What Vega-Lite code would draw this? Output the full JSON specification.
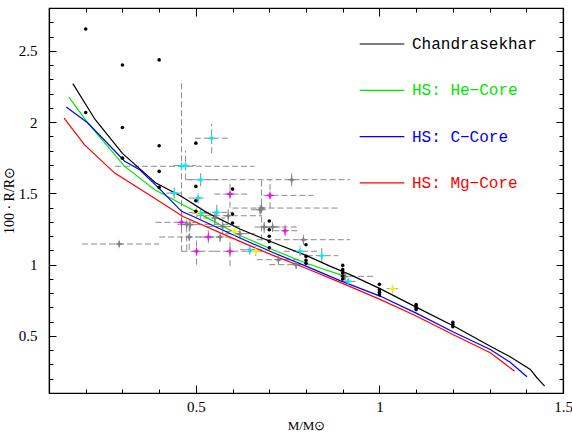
{
  "$schema": "https://vega.github.io/schema/vega-lite/v6.json",
  "width": 514,
  "height": 385,
  "autosize": {"type": "none"},
  "padding": {"left": 49, "top": 8, "right": 9, "bottom": 41},
  "background": "white",
  "config": {
    "view": {"stroke": "black", "strokeWidth": 1.2},
    "axis": {
      "domainColor": "black", "domainWidth": 1.2, "tickColor": "black", "tickWidth": 1,
      "labelColor": "black", "titleColor": "black", "grid": false, "labelOverlap": false,
      "labelFont": "Liberation Serif", "titleFont": "Liberation Serif",
      "labelFontSize": 15, "titleFontSize": 14, "titleFontWeight": "normal"
    }
  },
  "datasets": {
    "curves": [
      {"model": "Chandrasekhar", "m": 0.165, "r": 2.27},
      {"model": "Chandrasekhar", "m": 0.225, "r": 2.02},
      {"model": "Chandrasekhar", "m": 0.30, "r": 1.78},
      {"model": "Chandrasekhar", "m": 0.39, "r": 1.575},
      {"model": "Chandrasekhar", "m": 0.46, "r": 1.48},
      {"model": "Chandrasekhar", "m": 0.53, "r": 1.365},
      {"model": "Chandrasekhar", "m": 0.62, "r": 1.25},
      {"model": "Chandrasekhar", "m": 0.71, "r": 1.155},
      {"model": "Chandrasekhar", "m": 0.80, "r": 1.065},
      {"model": "Chandrasekhar", "m": 0.865, "r": 0.99},
      {"model": "Chandrasekhar", "m": 0.92, "r": 0.93},
      {"model": "Chandrasekhar", "m": 1.003, "r": 0.83},
      {"model": "Chandrasekhar", "m": 1.104, "r": 0.697},
      {"model": "Chandrasekhar", "m": 1.206, "r": 0.564},
      {"model": "Chandrasekhar", "m": 1.302, "r": 0.428},
      {"model": "Chandrasekhar", "m": 1.356, "r": 0.354},
      {"model": "Chandrasekhar", "m": 1.411, "r": 0.265},
      {"model": "Chandrasekhar", "m": 1.429, "r": 0.207},
      {"model": "Chandrasekhar", "m": 1.45, "r": 0.148},
      {"model": "HS: He−Core", "m": 0.154, "r": 2.175},
      {"model": "HS: He−Core", "m": 0.206, "r": 1.993},
      {"model": "HS: He−Core", "m": 0.306, "r": 1.689},
      {"model": "HS: He−Core", "m": 0.388, "r": 1.525},
      {"model": "HS: He−Core", "m": 0.465, "r": 1.42},
      {"model": "HS: He−Core", "m": 0.53, "r": 1.33},
      {"model": "HS: He−Core", "m": 0.62, "r": 1.205},
      {"model": "HS: He−Core", "m": 0.71, "r": 1.105},
      {"model": "HS: He−Core", "m": 0.80, "r": 1.01},
      {"model": "HS: He−Core", "m": 0.905, "r": 0.92},
      {"model": "HS: C−Core", "m": 0.147, "r": 2.105},
      {"model": "HS: C−Core", "m": 0.206, "r": 1.993},
      {"model": "HS: C−Core", "m": 0.306, "r": 1.725},
      {"model": "HS: C−Core", "m": 0.347, "r": 1.666},
      {"model": "HS: C−Core", "m": 0.40, "r": 1.535},
      {"model": "HS: C−Core", "m": 0.461, "r": 1.374},
      {"model": "HS: C−Core", "m": 0.493, "r": 1.338},
      {"model": "HS: C−Core", "m": 0.62, "r": 1.187},
      {"model": "HS: C−Core", "m": 0.71, "r": 1.085},
      {"model": "HS: C−Core", "m": 0.80, "r": 0.99},
      {"model": "HS: C−Core", "m": 0.893, "r": 0.888},
      {"model": "HS: C−Core", "m": 1.003, "r": 0.778},
      {"model": "HS: C−Core", "m": 1.10, "r": 0.66},
      {"model": "HS: C−Core", "m": 1.20, "r": 0.53},
      {"model": "HS: C−Core", "m": 1.302, "r": 0.405},
      {"model": "HS: C−Core", "m": 1.356, "r": 0.316},
      {"model": "HS: C−Core", "m": 1.402, "r": 0.214},
      {"model": "HS: Mg−Core", "m": 0.141, "r": 2.028},
      {"model": "HS: Mg−Core", "m": 0.197, "r": 1.84},
      {"model": "HS: Mg−Core", "m": 0.279, "r": 1.642},
      {"model": "HS: Mg−Core", "m": 0.379, "r": 1.479},
      {"model": "HS: Mg−Core", "m": 0.465, "r": 1.338},
      {"model": "HS: Mg−Core", "m": 0.62, "r": 1.163},
      {"model": "HS: Mg−Core", "m": 0.71, "r": 1.065},
      {"model": "HS: Mg−Core", "m": 0.80, "r": 0.975},
      {"model": "HS: Mg−Core", "m": 0.893, "r": 0.876},
      {"model": "HS: Mg−Core", "m": 1.003, "r": 0.755},
      {"model": "HS: Mg−Core", "m": 1.10, "r": 0.64},
      {"model": "HS: Mg−Core", "m": 1.20, "r": 0.51},
      {"model": "HS: Mg−Core", "m": 1.302, "r": 0.382},
      {"model": "HS: Mg−Core", "m": 1.338, "r": 0.312},
      {"model": "HS: Mg−Core", "m": 1.368, "r": 0.253}
    ],
    "dots": [
      {"m": 0.2, "r": 2.653}, {"m": 0.2, "r": 2.067},
      {"m": 0.3, "r": 2.40}, {"m": 0.3, "r": 1.962}, {"m": 0.3, "r": 1.747},
      {"m": 0.4, "r": 2.436}, {"m": 0.4, "r": 1.834}, {"m": 0.4, "r": 1.654}, {"m": 0.4, "r": 1.542},
      {"m": 0.5, "r": 1.852}, {"m": 0.5, "r": 1.549}, {"m": 0.5, "r": 1.448}, {"m": 0.5, "r": 1.374},
      {"m": 0.6, "r": 1.53}, {"m": 0.6, "r": 1.355}, {"m": 0.6, "r": 1.292},
      {"m": 0.7, "r": 1.306}, {"m": 0.7, "r": 1.245}, {"m": 0.7, "r": 1.199}, {"m": 0.7, "r": 1.162}, {"m": 0.7, "r": 1.118},
      {"m": 0.8, "r": 1.14}, {"m": 0.8, "r": 1.058}, {"m": 0.8, "r": 1.03}, {"m": 0.8, "r": 1.01},
      {"m": 0.9, "r": 0.995}, {"m": 0.9, "r": 0.965}, {"m": 0.9, "r": 0.942}, {"m": 0.9, "r": 0.92}, {"m": 0.9, "r": 0.9},
      {"m": 1.0, "r": 0.862}, {"m": 1.0, "r": 0.825}, {"m": 1.0, "r": 0.806}, {"m": 1.0, "r": 0.79},
      {"m": 1.1, "r": 0.72}, {"m": 1.1, "r": 0.71}, {"m": 1.1, "r": 0.698}, {"m": 1.1, "r": 0.685},
      {"m": 1.2, "r": 0.595}, {"m": 1.2, "r": 0.58}, {"m": 1.2, "r": 0.565}
    ],
    "obs": [
      {"grp": "C", "m": 0.291, "r": 1.145, "xlo": 0.19, "xhi": 0.40, "ylo": 1.145, "yhi": 1.145},
      {"grp": "A", "m": 0.461, "r": 1.69, "xlo": 0.28, "xhi": 0.66, "ylo": 1.094, "yhi": 2.296},
      {"grp": "A", "m": 0.472, "r": 1.695, "xlo": 0.44, "xhi": 0.50, "ylo": 1.596, "yhi": 1.80},
      {"grp": "A", "m": 0.543, "r": 1.887, "xlo": 0.497, "xhi": 0.587, "ylo": 1.782, "yhi": 1.988},
      {"grp": "A", "m": 0.513, "r": 1.596, "xlo": 0.48, "xhi": 0.56, "ylo": 1.55, "yhi": 1.64},
      {"grp": "C", "m": 0.761, "r": 1.596, "xlo": 0.472, "xhi": 0.92, "ylo": 1.55, "yhi": 1.64},
      {"grp": "B", "m": 0.593, "r": 1.495, "xlo": 0.55, "xhi": 0.64, "ylo": 1.40, "yhi": 1.596},
      {"grp": "B", "m": 0.702, "r": 1.486, "xlo": 0.684, "xhi": 0.82, "ylo": 1.397, "yhi": 1.596},
      {"grp": "A", "m": 0.506, "r": 1.467, "xlo": 0.48, "xhi": 0.53, "ylo": 1.43, "yhi": 1.50},
      {"grp": "A", "m": 0.441, "r": 1.502, "xlo": 0.42, "xhi": 0.46, "ylo": 1.46, "yhi": 1.54},
      {"grp": "A", "m": 0.557, "r": 1.367, "xlo": 0.52, "xhi": 0.60, "ylo": 1.32, "yhi": 1.42},
      {"grp": "A", "m": 0.513, "r": 1.362, "xlo": 0.49, "xhi": 0.54, "ylo": 1.32, "yhi": 1.40},
      {"grp": "C", "m": 0.679, "r": 1.397, "xlo": 0.60, "xhi": 0.89, "ylo": 1.17, "yhi": 1.60},
      {"grp": "C", "m": 0.675, "r": 1.385, "xlo": 0.65, "xhi": 0.70, "ylo": 1.35, "yhi": 1.42},
      {"grp": "C", "m": 0.588, "r": 1.343, "xlo": 0.50, "xhi": 0.68, "ylo": 1.30, "yhi": 1.39},
      {"grp": "C", "m": 0.552, "r": 1.327, "xlo": 0.52, "xhi": 0.58, "ylo": 1.28, "yhi": 1.37},
      {"grp": "C", "m": 0.475, "r": 1.283, "xlo": 0.45, "xhi": 0.60, "ylo": 1.10, "yhi": 1.30},
      {"grp": "C", "m": 0.484, "r": 1.28, "xlo": 0.46, "xhi": 0.51, "ylo": 1.24, "yhi": 1.32},
      {"grp": "B", "m": 0.461, "r": 1.297, "xlo": 0.39, "xhi": 0.50, "ylo": 1.26, "yhi": 1.34},
      {"grp": "C", "m": 0.573, "r": 1.268, "xlo": 0.53, "xhi": 0.62, "ylo": 1.22, "yhi": 1.31},
      {"grp": "C", "m": 0.62, "r": 1.217, "xlo": 0.58, "xhi": 0.66, "ylo": 1.18, "yhi": 1.25},
      {"grp": "C", "m": 0.686, "r": 1.264, "xlo": 0.66, "xhi": 0.78, "ylo": 1.22, "yhi": 1.30},
      {"grp": "C", "m": 0.709, "r": 1.264, "xlo": 0.69, "xhi": 0.73, "ylo": 1.23, "yhi": 1.30},
      {"grp": "B", "m": 0.743, "r": 1.238, "xlo": 0.711, "xhi": 0.784, "ylo": 1.20, "yhi": 1.28},
      {"grp": "C", "m": 0.482, "r": 1.194, "xlo": 0.40, "xhi": 0.55, "ylo": 1.105, "yhi": 1.30},
      {"grp": "B", "m": 0.534, "r": 1.194, "xlo": 0.51, "xhi": 0.56, "ylo": 1.15, "yhi": 1.24},
      {"grp": "C", "m": 0.566, "r": 1.194, "xlo": 0.53, "xhi": 0.60, "ylo": 1.16, "yhi": 1.23},
      {"grp": "C", "m": 0.793, "r": 1.175, "xlo": 0.666, "xhi": 0.92, "ylo": 1.14, "yhi": 1.21},
      {"grp": "B", "m": 0.502, "r": 1.094, "xlo": 0.461, "xhi": 0.55, "ylo": 1.0, "yhi": 1.2},
      {"grp": "B", "m": 0.593, "r": 1.094, "xlo": 0.55, "xhi": 0.64, "ylo": 0.99, "yhi": 1.19},
      {"grp": "A", "m": 0.647, "r": 1.105, "xlo": 0.62, "xhi": 0.68, "ylo": 1.07, "yhi": 1.14},
      {"grp": "A", "m": 0.784, "r": 1.094, "xlo": 0.74, "xhi": 0.83, "ylo": 1.06, "yhi": 1.13},
      {"grp": "A", "m": 0.843, "r": 1.063, "xlo": 0.802, "xhi": 0.888, "ylo": 1.012, "yhi": 1.117},
      {"grp": "C", "m": 0.725, "r": 1.035, "xlo": 0.666, "xhi": 0.784, "ylo": 1.0, "yhi": 1.07},
      {"grp": "C", "m": 0.773, "r": 1.0, "xlo": 0.70, "xhi": 0.82, "ylo": 0.97, "yhi": 1.03},
      {"grp": "C", "m": 0.906, "r": 0.918, "xlo": 0.893, "xhi": 0.984, "ylo": 0.89, "yhi": 0.95},
      {"grp": "A", "m": 0.915, "r": 0.883, "xlo": 0.895, "xhi": 0.935, "ylo": 0.86, "yhi": 0.91},
      {"grp": "D", "m": 0.502, "r": 1.367, "xlo": 0.48, "xhi": 0.52, "ylo": 1.33, "yhi": 1.40},
      {"grp": "D", "m": 0.605, "r": 1.233, "xlo": 0.58, "xhi": 0.63, "ylo": 1.20, "yhi": 1.26},
      {"grp": "D", "m": 0.663, "r": 1.094, "xlo": 0.64, "xhi": 0.69, "ylo": 1.06, "yhi": 1.13},
      {"grp": "D", "m": 1.036, "r": 0.832, "xlo": 1.02, "xhi": 1.05, "ylo": 0.80, "yhi": 0.865}
    ]
  },
  "layer": [
    {
      "layer": [
        {
          "data": {"name": "obs"},
          "mark": {"type": "rule", "strokeDash": [6, 3], "color": "#8a8a8a", "strokeWidth": 1},
          "encoding": {
            "x": {
              "field": "xlo", "type": "quantitative", "title": "M/M⊙",
              "scale": {"domain": [0.1, 1.5], "nice": false, "zero": false},
              "axis": {
                "orient": "bottom",
                "values": [0.5, 1.0, 1.5],
                "tickSize": -8,
                "labelExpr": "toString(round(datum.value*10)/10)",
                "labelPadding": 14, "labelFlush": false, "labelOverlap": false,
                "titleFontSize": 13, "titleY": 32, "titleBaseline": "middle"
              }
            },
            "x2": {"field": "xhi"},
            "y": {
              "field": "r", "type": "quantitative", "title": "100 · R/R⊙",
              "scale": {"domain": [0.1, 2.8], "nice": false, "zero": false},
              "axis": {
                "orient": "left",
                "values": [0.5, 1.0, 1.5, 2.0, 2.5],
                "tickSize": -7,
                "labelExpr": "toString(round(datum.value*10)/10)",
                "labelPadding": 19, "labelFlush": false, "labelOverlap": false,
                "titleX": -40, "titleY": 192, "titleAngle": 270, "titleAlign": "center", "titleBaseline": "middle", "titleFontSize": 14
              }
            }
          }
        },
        {
          "data": {"name": "obs"},
          "mark": {"type": "rule", "strokeDash": [6, 3], "color": "#8a8a8a", "strokeWidth": 1},
          "encoding": {
            "x": {"field": "m", "type": "quantitative", "title": "M/M⊙", "scale": {"domain": [0.1, 1.5], "nice": false, "zero": false}},
            "y": {"field": "ylo", "type": "quantitative", "title": "100 · R/R⊙", "scale": {"domain": [0.1, 2.8], "nice": false, "zero": false}},
            "y2": {"field": "yhi"}
          }
        },
        {
          "data": {"name": "curves"},
          "mark": {"type": "line", "strokeWidth": 1.2},
          "encoding": {
            "x": {"field": "m", "type": "quantitative", "title": "M/M⊙", "scale": {"domain": [0.1, 1.5], "nice": false, "zero": false}},
            "y": {"field": "r", "type": "quantitative", "title": "100 · R/R⊙", "scale": {"domain": [0.1, 2.8], "nice": false, "zero": false}},
            "color": {
              "field": "model", "type": "nominal",
              "scale": {"domain": ["Chandrasekhar", "HS: He−Core", "HS: C−Core", "HS: Mg−Core"], "range": ["#000000", "#00e600", "#0000ff", "#ff0000"]},
              "legend": {
                "orient": "none", "legendX": 310, "legendY": 13, "title": null, "padding": 0,
                "symbolType": "stroke", "symbolSize": 2000, "symbolStrokeWidth": 1.2,
                "labelFont": "Liberation Mono", "labelFontSize": 16, "labelOffset": 7, "labelLimit": 300,
                "rowPadding": 15.3,
                "encode": {"labels": {"update": {"fill": {"signal": "scale('color', datum.value)"}}}}
              }
            }
          }
        },
        {
          "data": {"name": "obs"},
          "mark": {"type": "point", "filled": true, "opacity": 1, "shape": "M0,-1L0.22,-0.22L1,0L0.22,0.22L0,1L-0.22,0.22L-1,0L-0.22,-0.22Z", "size": 90},
          "encoding": {
            "x": {"field": "m", "type": "quantitative", "title": "M/M⊙", "scale": {"domain": [0.1, 1.5], "nice": false, "zero": false}},
            "y": {"field": "r", "type": "quantitative", "title": "100 · R/R⊙", "scale": {"domain": [0.1, 2.8], "nice": false, "zero": false}},
            "fill": {
              "field": "grp", "type": "nominal", "legend": null,
              "scale": {"domain": ["A", "B", "C", "D"], "range": ["#10e0ee", "#ee10ee", "#7f7f7f", "#f2f200"]}
            }
          }
        },
        {
          "data": {"name": "dots"},
          "mark": {"type": "circle", "color": "black", "size": 13, "opacity": 1},
          "encoding": {
            "x": {"field": "m", "type": "quantitative", "title": "M/M⊙", "scale": {"domain": [0.1, 1.5], "nice": false, "zero": false}},
            "y": {"field": "r", "type": "quantitative", "title": "100 · R/R⊙", "scale": {"domain": [0.1, 2.8], "nice": false, "zero": false}}
          }
        }
      ]
    },
    {
      "data": {"name": "dots"},
      "mark": {"type": "point", "opacity": 0},
      "encoding": {
        "x": {
          "field": "m", "type": "quantitative",
          "scale": {"domain": [0.1, 1.5], "nice": false, "zero": false},
          "axis": {
            "orient": "top", "title": null, "labels": false,
            "values": [0.1, 0.2, 0.3, 0.4, 0.5, 0.6, 0.7, 0.8, 0.9, 1.0, 1.1, 1.2, 1.3, 1.4, 1.5],
            "tickSize": {"condition": {"test": "indexof([5,10,15,20,25], round(datum.value*10)) >= 0", "value": -8}, "value": -4}
          }
        },
        "y": {
          "field": "r", "type": "quantitative",
          "scale": {"domain": [0.1, 2.8], "nice": false, "zero": false},
          "axis": {
            "orient": "right", "title": null, "labels": false,
            "values": [0.1, 0.2, 0.3, 0.4, 0.5, 0.6, 0.7, 0.8, 0.9, 1.0, 1.1, 1.2, 1.3, 1.4, 1.5, 1.6, 1.7, 1.8, 1.9, 2.0, 2.1, 2.2, 2.3, 2.4, 2.5, 2.6, 2.7, 2.8],
            "tickSize": {"condition": {"test": "indexof([5,10,15,20,25], round(datum.value*10)) >= 0", "value": -7}, "value": -4}
          }
        }
      }
    },
    {
      "data": {"name": "dots"},
      "mark": {"type": "point", "opacity": 0},
      "encoding": {
        "x": {
          "field": "m", "type": "quantitative",
          "scale": {"domain": [0.1, 1.5], "nice": false, "zero": false},
          "axis": {
            "orient": "bottom", "title": null, "labels": false, "domain": false,
            "values": [0.1, 0.2, 0.3, 0.4, 0.6, 0.7, 0.8, 0.9, 1.1, 1.2, 1.3, 1.4],
            "tickSize": -4
          }
        },
        "y": {
          "field": "r", "type": "quantitative",
          "scale": {"domain": [0.1, 2.8], "nice": false, "zero": false},
          "axis": {
            "orient": "left", "title": null, "labels": false, "domain": false,
            "values": [0.1, 0.2, 0.3, 0.4, 0.6, 0.7, 0.8, 0.9, 1.1, 1.2, 1.3, 1.4, 1.6, 1.7, 1.8, 1.9, 2.1, 2.2, 2.3, 2.4, 2.6, 2.7, 2.8],
            "tickSize": -4
          }
        }
      }
    }
  ],
  "resolve": {"axis": {"x": "independent", "y": "independent"}}
}
